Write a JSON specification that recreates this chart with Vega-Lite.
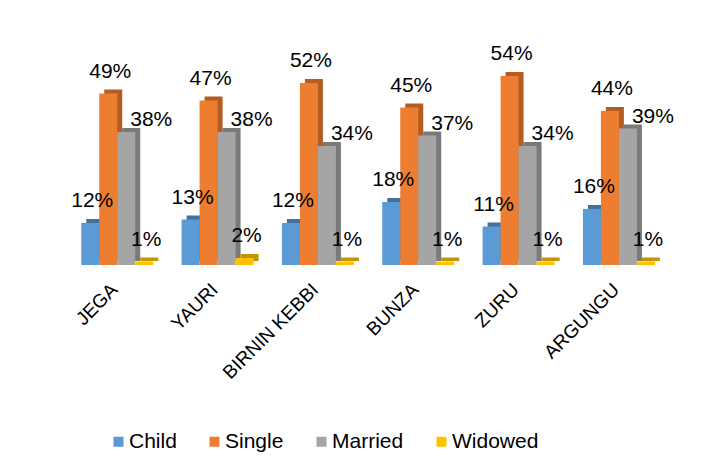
{
  "$schema": "https://vega.github.io/schema/vega-lite/v6.json",
  "autosize": {"type": "none"},
  "width": 602,
  "height": 210,
  "padding": {"left": 67, "top": 55, "right": 56, "bottom": 204},
  "background": "white",
  "config": {
    "view": {"stroke": null},
    "font": "Liberation Sans"
  },
  "data": {
    "values": [
      {"lga": "JEGA", "status": "Child", "share": 0.12},
      {"lga": "JEGA", "status": "Single", "share": 0.49},
      {"lga": "JEGA", "status": "Married", "share": 0.38},
      {"lga": "JEGA", "status": "Widowed", "share": 0.01},
      {"lga": "YAURI", "status": "Child", "share": 0.13},
      {"lga": "YAURI", "status": "Single", "share": 0.47},
      {"lga": "YAURI", "status": "Married", "share": 0.38},
      {"lga": "YAURI", "status": "Widowed", "share": 0.02},
      {"lga": "BIRNIN KEBBI", "status": "Child", "share": 0.12},
      {"lga": "BIRNIN KEBBI", "status": "Single", "share": 0.52},
      {"lga": "BIRNIN KEBBI", "status": "Married", "share": 0.34},
      {"lga": "BIRNIN KEBBI", "status": "Widowed", "share": 0.01},
      {"lga": "BUNZA", "status": "Child", "share": 0.18},
      {"lga": "BUNZA", "status": "Single", "share": 0.45},
      {"lga": "BUNZA", "status": "Married", "share": 0.37},
      {"lga": "BUNZA", "status": "Widowed", "share": 0.01},
      {"lga": "ZURU", "status": "Child", "share": 0.11},
      {"lga": "ZURU", "status": "Single", "share": 0.54},
      {"lga": "ZURU", "status": "Married", "share": 0.34},
      {"lga": "ZURU", "status": "Widowed", "share": 0.01},
      {"lga": "ARGUNGU", "status": "Child", "share": 0.16},
      {"lga": "ARGUNGU", "status": "Single", "share": 0.44},
      {"lga": "ARGUNGU", "status": "Married", "share": 0.39},
      {"lga": "ARGUNGU", "status": "Widowed", "share": 0.01}
    ]
  },
  "encoding": {
    "x": {
      "field": "lga",
      "type": "nominal",
      "sort": null,
      "scale": {"paddingInner": 0.284, "paddingOuter": 0.142},
      "axis": {
        "title": null,
        "domain": false,
        "ticks": false,
        "labelAngle": -45,
        "labelAlign": "right",
        "labelBaseline": "top",
        "labelPadding": 15,
        "labelOffset": -9,
        "labelFontSize": 19,
        "labelColor": "#000000",
        "labelFont": "Liberation Sans"
      }
    },
    "y": {
      "field": "share",
      "type": "quantitative",
      "scale": {"domain": [0, 0.6], "nice": false},
      "axis": null
    }
  },
  "layer": [
    {
      "mark": {"type": "bar", "yOffset": -4},
      "encoding": {
        "xOffset": {
          "field": "status",
          "type": "nominal",
          "sort": ["Child", "Single", "Married", "Widowed"],
          "scale": {"range": [5, 77], "paddingInner": 0, "paddingOuter": 0}
        },
        "color": {
          "field": "status",
          "type": "nominal",
          "sort": ["Child", "Single", "Married", "Widowed"],
          "scale": {"range": ["#41719C", "#B35D22", "#7A7A7A", "#C49500"]},
          "legend": null
        }
      }
    },
    {
      "encoding": {
        "xOffset": {
          "field": "status",
          "type": "nominal",
          "sort": ["Child", "Single", "Married", "Widowed"],
          "scale": {"range": [0, 72], "paddingInner": 0, "paddingOuter": 0}
        }
      },
      "layer": [
        {
          "mark": {"type": "bar"},
          "encoding": {
            "color": {
              "field": "status",
              "type": "nominal",
              "sort": ["Child", "Single", "Married", "Widowed"],
              "scale": {"range": ["#5B9BD5", "#ED7D31", "#A5A5A5", "#FFC000"]},
              "legend": {
                "title": null,
                "orient": "none",
                "direction": "horizontal",
                "legendX": 41,
                "legendY": 376,
                "padding": 0,
                "symbolType": "square",
                "symbolSize": 100,
                "symbolStrokeWidth": 0,
                "labelFontSize": 21,
                "labelFont": "Liberation Sans",
                "labelColor": "#000000",
                "labelOffset": 0,
                "columnPadding": 27
              }
            }
          }
        },
        {
          "transform": [{"filter": "datum.status !== 'Married'"}],
          "mark": {"type": "text", "fontSize": 21, "font": "Liberation Sans", "color": "#000000", "baseline": "middle", "dx": 2, "dy": -22},
          "encoding": {"text": {"field": "share", "type": "quantitative", "format": ".0%"}}
        },
        {
          "transform": [{"filter": "datum.status === 'Married'"}],
          "mark": {"type": "text", "fontSize": 21, "font": "Liberation Sans", "color": "#000000", "baseline": "middle", "dx": 25, "dy": -12},
          "encoding": {"text": {"field": "share", "type": "quantitative", "format": ".0%"}}
        }
      ]
    }
  ],
  "resolve": {"scale": {"color": "independent", "xOffset": "independent"}}
}
